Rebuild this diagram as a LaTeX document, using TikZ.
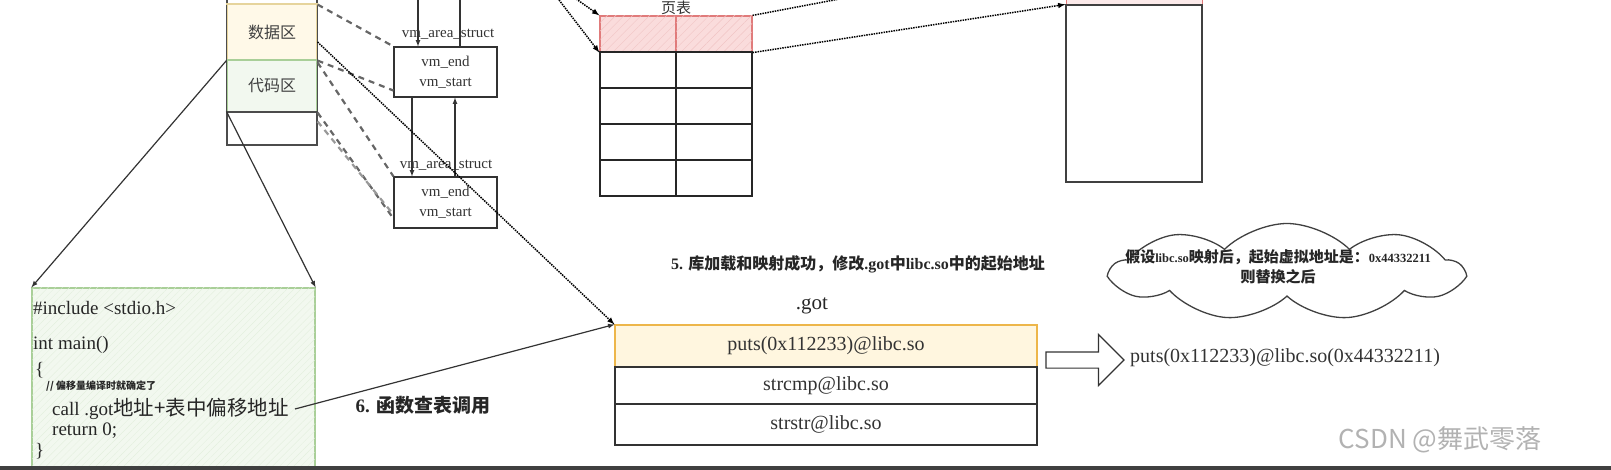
\documentclass[tikz,border=0pt]{standalone}
\usepackage{fontspec}
\setmainfont{Liberation Serif}
\newfontfamily\cjk{Noto Sans CJK SC}
\usetikzlibrary{calc, shapes.arrows, shapes.symbols, patterns.meta}
\newcommand{\zh}[1]{{\cjk #1}}
\newcommand{\sm}[1]{{\rmfamily\fontsize{12.5}{14}\selectfont #1}}
\definecolor{datafill}{HTML}{FFF9E8}
\definecolor{dataline}{HTML}{E6D49C}
\definecolor{codefill}{HTML}{F2F8EF}
\definecolor{codeline}{HTML}{A9CF98}
\definecolor{pagefill}{HTML}{FADCDC}
\definecolor{pageline}{HTML}{E07B7B}
\definecolor{gotfill}{HTML}{FFF6DF}
\definecolor{gotline}{HTML}{EDB64A}
\tikzstyle{seg}=[draw=black!70, line width=1.1pt, minimum width=90pt, inner sep=0, font=\cjk\fontsize{16}{19}\selectfont, text=black!75]
\tikzstyle{vm}=[draw=black!80, line width=1.1pt, minimum width=103pt, align=center, inner sep=0, font=\fontsize{15}{20}\selectfont, text=black!80]
\tikzstyle{lbl}=[inner sep=0, font=\fontsize{15}{18}\selectfont, text=black!80]
\tikzstyle{cell}=[draw=black!85, line width=1.2pt, minimum width=76pt, minimum height=36pt, inner sep=0]
\tikzstyle{redcell}=[cell, draw=pageline, fill=pagefill, postaction={pattern={Lines[angle=45,distance=6pt,line width=.4pt]}, pattern color=pageline!45}]
\tikzstyle{got}=[draw=black!80, line width=1.1pt, minimum width=422pt, inner sep=0, font=\fontsize{20}{24}\selectfont, text=black!80]
\tikzstyle{code}=[anchor=west, inner sep=0, font=\fontsize{19}{22}\selectfont, text=black!85]
\tikzstyle{seglink}=[draw=black!60, line width=2.2pt, dash pattern=on 6pt off 5pt]
\tikzstyle{dots}=[line width=1.5pt, densely dotted, -latex]
\tikzstyle{arr}=[line width=1.2pt, draw=black!80, -latex]

\begin{document}
\begin{tikzpicture}[x=1pt, y=-1pt]
\useasboundingbox (0,0) rectangle (1611,470);
\node at (272,-10)[seg, minimum height=28pt](heap){};
\node at (272,32)[seg, minimum height=56pt, draw=dataline, fill=datafill](data){数据区};
\node at (272,86)[seg, minimum height=52pt, draw=codeline, fill=codefill](code){代码区};
\node at (272,128.5)[seg, minimum height=33pt](rest){};
\draw[seg] (heap.south west)--(rest.north west);
\draw[seg] (heap.south east)--(rest.north east);
\node at (445.5,72)[vm, minimum height=50pt](vm1){vm\_end\\vm\_start};
\node at (445.5,202.5)[vm, minimum height=51pt](vm2){vm\_end\\vm\_start};
\node at (448,34)[lbl](a1){vm\_area\_struct};
\node at (446,165)[lbl](a2){vm\_area\_struct};
\coordinate (t1) at (418,-5);
\coordinate (t2) at (460,-5);
\draw[arr] (t1)--(t1 |- vm1.north);
\draw[line width=1.2pt, black!80] (t2)--(t2 |- vm1.north);
\draw[arr] ([xshift=-33.5pt]vm1.south)--([xshift=-33.5pt]vm2.north);
\draw[arr] ([xshift=9.5pt]vm2.north)--([xshift=9.5pt]vm1.south);
\draw[seglink] (heap.south east)--(vm1.north west);
\draw[seglink] (data.south east)--([yshift=7pt]vm1.south west);
\draw[seglink] ([yshift=-3pt]code.north east)--(vm2.north west);
\draw[seglink] (code.south east)--([yshift=10pt]vm2.south west);
\draw[seglink, black!40] ([yshift=-10pt]rest.north east)--([yshift=14pt]vm2.south west);
\foreach \c/\x in {0/638,1/714} {\node at (\x,34)[redcell](p0\c){};}
\foreach \r in {1,...,4} {\foreach \c/\x in {0/638,1/714} {\node at (\x,{34+36*\r})[cell](p\r\c){};}}
\node at (676,8)[inner sep=0, font=\cjk\fontsize{15}{18}\selectfont, text=black!80](ptl){页表};
\coordinate (q1) at (572,-4);
\coordinate (q2) at (556,-4);
\draw[dots] (q1)--(p00.north west);
\draw[dots] (q2)--(p00.south west);
\node at (1134,-8)[draw=pageline, fill=pagefill!60, line width=1pt, minimum width=136pt, minimum height=26pt](memtop){};
\node at (1134,93.5)[draw=black!75, line width=1.2pt, minimum width=136pt, minimum height=177pt](mem){};
\coordinate (q3) at (850,-3);
\draw[line width=1.5pt, densely dotted] (p01.north east)--(q3);
\draw[dots] (p01.south east)--(mem.north west);
\node at (173.5,381.5)[draw=codeline, line width=1.2pt, fill=codefill, minimum width=283pt, minimum height=187pt, postaction={pattern={Lines[angle=45,distance=5pt,line width=.3pt]}, pattern color=codeline!35}](src){};
\node at (33,308)[code](l1){\#include <stdio.h>};
\node at (33,345)[code](l2){int main()};
\node at (35,370)[code](l3){\{};
\node at (46,386)[code, font=\cjk\bfseries\fontsize{10}{12}\selectfont](l4){// 偏移量编译时就确定了};
\node at (52,409)[code](call){call .got\zh{\fontsize{20.5}{24}\selectfont 地址+表中偏移地址}};
\node at (52,431)[code](l6){return 0;};
\node at (35,451)[code](l7){\}};
\draw[arr] (data.south west)--(src.north west);
\draw[arr] (rest.north west)--(src.north east);
\node at (812,306)[inner sep=0, font=\fontsize{21}{24}\selectfont, text=black!85](gl){.got};
\node at (826,346)[got, minimum height=42pt, draw=gotline, fill=gotfill](g1){puts(0x112233)@libc.so};
\node at (826,385.5)[got, minimum height=37pt](g2){strcmp@libc.so};
\node at (826,424.5)[got, minimum height=41pt](g3){strstr@libc.so};
\draw[dots] ([yshift=-10pt]data.east)--(g1.north west);
\draw[arr] ([xshift=6pt]call.east)--(g1.north west);
\node at (423,405)[inner sep=0, font=\fontsize{19}{22}\selectfont\bfseries, text=black!85](s6){6. \zh{函数查表调用}};
\node at (858,264)[inner sep=0, font=\fontsize{16}{19}\selectfont\bfseries, text=black!85](s5){5. \zh{库加载和映射成功，修改}.got\zh{中}libc.so\zh{中的起始地址}};
\node at (1081,360)[single arrow, draw=black!80, line width=1.2pt, inner sep=7.5pt, single arrow head extend=17.5pt, minimum height=78pt](big){};
\node at (1130,358)[anchor=west, inner sep=0, font=\fontsize{20}{24}\selectfont, text=black!80](res){puts(0x112233)@libc.so(0x44332211)};
\node at (1287,272)[cloud, draw=black!75, line width=1.3pt, cloud puffs=9, cloud puff arc=90, aspect=3.6, minimum width=350pt, minimum height=97pt, inner sep=0](cl){};
\node at (1278,267)[align=center, inner sep=0, font=\cjk\bfseries\fontsize{15}{20}\selectfont, text=black!85](ctext){假设\sm{libc.so}映射后，起始虚拟地址是：\sm{0x44332211}\\则替换之后};
\node at (1440,440)[inner sep=0, font=\cjk\fontsize{26}{30}\selectfont, text=black!30](wm){CSDN @舞武零落};
\draw[line width=5pt, black!75] (0,468)--(1611,468);
\end{tikzpicture}
\end{document}
